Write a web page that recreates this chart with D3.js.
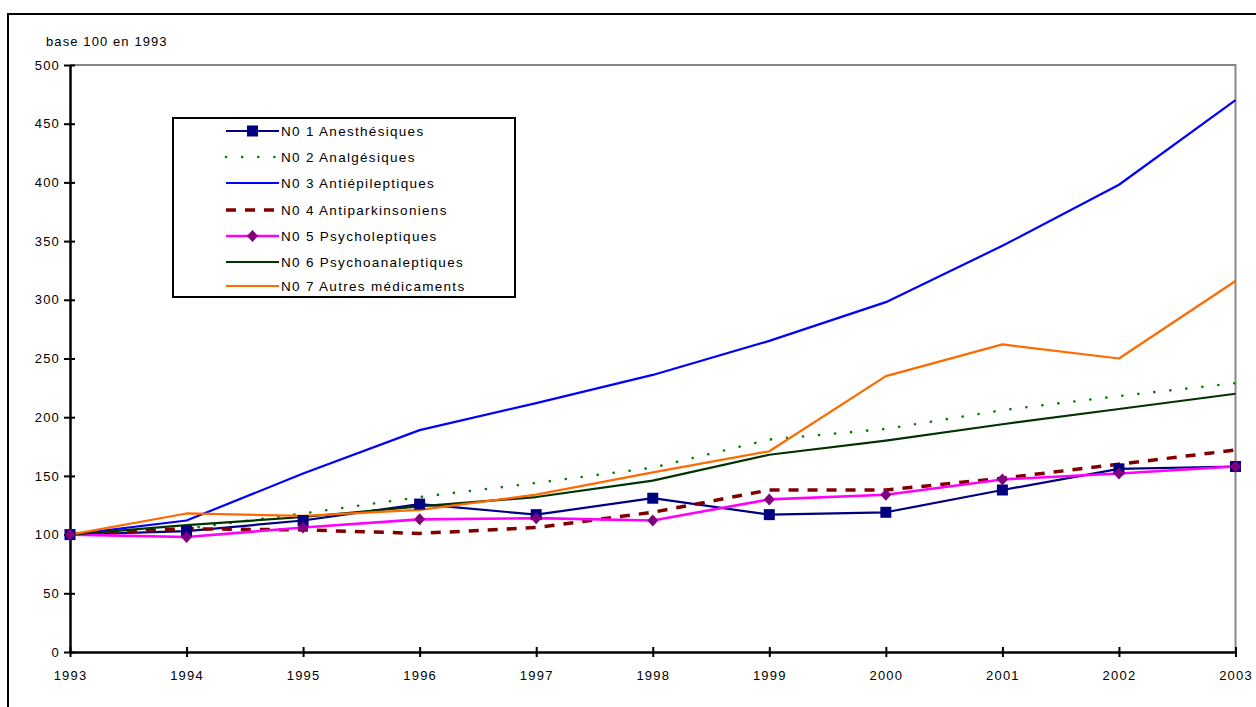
<!DOCTYPE html>
<html>
<head>
<meta charset="utf-8">
<script src="https://cdn.jsdelivr.net/npm/d3@7"></script>
<style>
  html, body { margin: 0; padding: 0; background: #fff; }
  svg { display: block; font-family: "Liberation Sans", Arial, sans-serif; }
</style>
</head>
<body>
<svg id="chart" width="1256" height="707"></svg>
<script>
// Indices base 100 en 1993, par classe thérapeutique
const years = [1993, 1994, 1995, 1996, 1997, 1998, 1999, 2000, 2001, 2002, 2003];
const yTicks = [0, 50, 100, 150, 200, 250, 300, 350, 400, 450, 500];

const n01 = [100, 103, 112, 126, 117, 131, 117, 119, 138, 156, 158];
const n02 = [100, 105, 118, 132, 144, 157, 181, 190, 206, 218, 229];
const n03 = [100, 112, 152, 189, 212, 236, 265, 298, 346, 398, 470];
const n04 = [100, 105, 104, 101, 106, 119, 138, 138, 148, 160, 172];
const n05 = [100, 98, 106, 113, 114, 112, 130, 134, 147, 152, 158];
const n06 = [100, 108, 115, 124, 132, 146, 168, 180, 194, 207, 220];
const n07 = [100, 118, 116, 121, 134, 153, 171, 235, 262, 250, 316];

const seriesNames = [
  "N0 1 Anesthésiques",
  "N0 2 Analgésiques",
  "N0 3 Antiépileptiques",
  "N0 4 Antiparkinsoniens",
  "N0 5 Psycholeptiques",
  "N0 6 Psychoanaleptiques",
  "N0 7 Autres médicaments"
];

const series = [
  { name: seriesNames[0], values: n01, color: "#000080", width: 2.2, dash: null, marker: "square" },
  { name: seriesNames[1], values: n02, color: "#008000", width: 2.6, dash: "0.1 16", cap: "round", marker: null },
  { name: seriesNames[2], values: n03, color: "#0000ff", width: 2.2, dash: null, marker: null },
  { name: seriesNames[3], values: n04, color: "#800000", width: 3.5, dash: "10 9", marker: null },
  { name: seriesNames[4], values: n05, color: "#ff00ff", width: 2.6, dash: null, marker: "diamond", markerColor: "#800080" },
  { name: seriesNames[5], values: n06, color: "#003300", width: 2.2, dash: null, marker: null },
  { name: seriesNames[6], values: n07, color: "#ff6a00", width: 2.2, dash: null, marker: null }
];

const svg = d3.select("#chart");

// Outer frame
svg.append("rect")
  .attr("x", 8).attr("y", 14).attr("width", 1260).attr("height", 710)
  .attr("fill", "none").attr("stroke", "#000").attr("stroke-width", 2);

const plot = { left: 70, right: 1235.5, top: 65, bottom: 652 };

const x = d3.scaleLinear().domain([1993, 2003]).range([plot.left, plot.right]);
const y = d3.scaleLinear().domain([0, 500]).range([plot.bottom, plot.top]);

// Plot area border (top & right, grey)
svg.append("path")
  .attr("d", `M${plot.left},${plot.top}H${plot.right}V${plot.bottom}`)
  .attr("fill", "none").attr("stroke", "#888").attr("stroke-width", 2);

// Unit label
svg.append("text")
  .attr("x", 46).attr("y", 46)
  .attr("font-size", 13).attr("letter-spacing", 1.1).attr("fill", "#000")
  .text("base 100 en 1993");

// Y axis
const yAxis = d3.axisLeft(y).tickValues(yTicks).tickSize(0).tickPadding(10);
const gy = svg.append("g").attr("transform", `translate(${plot.left},0)`).call(yAxis);
gy.select(".domain").attr("stroke", "#000").attr("stroke-width", 2.5);
gy.selectAll(".tick text").attr("font-size", 13).attr("letter-spacing", 1.2).attr("fill", "#000")
  .attr("font-family", "Liberation Sans, Arial, sans-serif");
gy.selectAll(".tick").append("line")
  .attr("x1", -6).attr("x2", 5).attr("stroke", "#000").attr("stroke-width", 2);

// X axis
const xAxis = d3.axisBottom(x).tickValues(years).tickFormat(d3.format("d")).tickSize(0).tickPadding(19);
const gx = svg.append("g").attr("transform", `translate(0,${plot.bottom})`).call(xAxis);
gx.select(".domain").attr("stroke", "#000").attr("stroke-width", 2.5);
gx.selectAll(".tick text").attr("font-size", 13).attr("letter-spacing", 1.2).attr("fill", "#000")
  .attr("font-family", "Liberation Sans, Arial, sans-serif");
gx.selectAll(".tick").append("line")
  .attr("y1", -5).attr("y2", 5).attr("stroke", "#000").attr("stroke-width", 2);

// Lines
const line = d3.line().x((d, i) => x(years[i])).y(d => y(d));

const gLines = svg.append("g");
series.forEach(s => {
  gLines.append("path")
    .datum(s.values)
    .attr("d", line)
    .attr("fill", "none")
    .attr("stroke", s.color)
    .attr("stroke-width", s.width)
    .attr("stroke-linejoin", "round")
    .attr("stroke-linecap", s.cap || "butt")
    .attr("stroke-dasharray", s.dash);
});

// Markers
function drawMarker(g, type, cx, cy, color) {
  if (type === "square") {
    g.append("rect").attr("x", cx - 5.5).attr("y", cy - 5.5)
      .attr("width", 11).attr("height", 11).attr("fill", color);
  } else if (type === "diamond") {
    g.append("path")
      .attr("d", `M${cx},${cy - 6}L${cx + 5.5},${cy}L${cx},${cy + 6}L${cx - 5.5},${cy}Z`)
      .attr("fill", color);
  }
}
series.forEach(s => {
  if (!s.marker) return;
  const g = svg.append("g");
  s.values.forEach((v, i) => drawMarker(g, s.marker, x(years[i]), y(v), s.markerColor || s.color));
});

// Legend
const legend = svg.append("g");
legend.append("rect")
  .attr("x", 173).attr("y", 118).attr("width", 342).attr("height", 179)
  .attr("fill", "#fff").attr("stroke", "#000").attr("stroke-width", 2);

const legendRowY = [131, 157, 183, 210, 236, 262, 286];
series.forEach((s, i) => {
  const ly = legendRowY[i];
  legend.append("line")
    .attr("x1", 226).attr("x2", 279).attr("y1", ly).attr("y2", ly)
    .attr("stroke", s.color).attr("stroke-width", s.width)
    .attr("stroke-linecap", s.cap || "butt")
    .attr("stroke-dasharray", s.dash);
  if (s.marker) drawMarker(legend, s.marker, 252.5, ly, s.markerColor || s.color);
  legend.append("text")
    .attr("x", 281).attr("y", ly + 4.5)
    .attr("font-size", 13.5).attr("letter-spacing", 1.3).attr("fill", "#000")
    .text(s.name);
});
</script>
</body>
</html>
